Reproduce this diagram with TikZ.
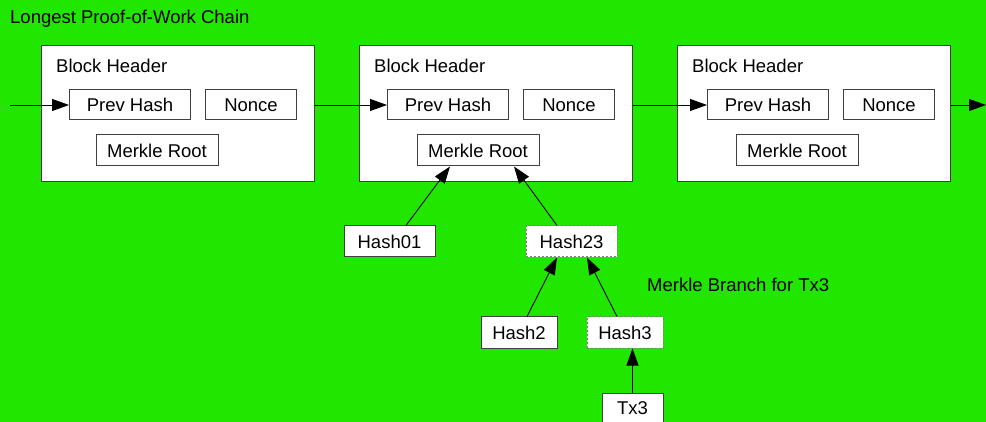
\documentclass[tikz,border=0pt]{standalone}
\usepackage{fontspec}
\setmainfont{Liberation Sans}
\usetikzlibrary{arrows.meta,positioning}
\definecolor{bggreen}{HTML}{20E600}
\definecolor{boxline}{HTML}{404040}
\tikzset{
  field/.style={draw=boxline, fill=white, line width=1pt, minimum height=30pt, inner sep=0pt},
  branch/.style={field, draw=gray, dash pattern=on 2pt off 2pt},
  block/.style={draw=boxline, fill=white, line width=1pt, minimum width=273pt, minimum height=136pt, anchor=north west},
  label/.style={anchor=base west, inner sep=0pt},
  link/.style={-{Triangle[length=17pt,width=12pt]}, line width=0.9pt},
}

\begin{document}
\begin{tikzpicture}[x=1pt, y=-1pt, font=\fontsize{18.5}{22}\selectfont]
        \fill[bggreen] (0,0) rectangle (986,422);
        \useasboundingbox (0,0) rectangle (986,422);
        \node[label] (title) at (10,24) {Longest Proof-of-Work Chain};

        % Block 1
        \begin{scope}[xshift=41]
            \node[block] (b1) at (0,45) {};
            \node[label] (b1head) at (15,73) {Block Header};
            \node[field, minimum width=121pt] (b1prev) at (89,105) {Prev Hash};
            \node[field, minimum width=91pt] (b1nonce) at (210,105) {Nonce};
            \node[field, minimum width=122pt, minimum height=31pt] (b1root) at (116,150.5) {Merkle Root};
        \end{scope}

        % Block 2
        \begin{scope}[xshift=359]
            \node[block] (b2) at (0,45) {};
            \node[label] (b2head) at (15,73) {Block Header};
            \node[field, minimum width=121pt] (b2prev) at (89,105) {Prev Hash};
            \node[field, minimum width=91pt] (b2nonce) at (210,105) {Nonce};
            \node[field, minimum width=122pt, minimum height=31pt] (b2root) at (119,150.5) {Merkle Root};
        \end{scope}

        % Block 3
        \begin{scope}[xshift=677]
            \node[block] (b3) at (0,45) {};
            \node[label] (b3head) at (15,73) {Block Header};
            \node[field, minimum width=121pt] (b3prev) at (91,105) {Prev Hash};
            \node[field, minimum width=91pt] (b3nonce) at (212,105) {Nonce};
            \node[field, minimum width=122pt, minimum height=31pt] (b3root) at (120,150.5) {Merkle Root};
        \end{scope}

        % chain links
        \coordinate (chainin) at (10,105);
        \coordinate (chainout) at (986,105);
        \draw[link] (chainin) -- (b1prev.west);
        \draw[link] (b1.east |- b1prev) -- (b2prev.west);
        \draw[link] (b2.east |- b2prev) -- (b3prev.west);
        \draw[link] (b3.east |- b3prev) -- (chainout);

        % Merkle branch
        \node[field, minimum width=91pt, minimum height=31pt] (h01) at (389.5,241.5) {Hash01};
        \node[branch, minimum width=91pt, minimum height=31pt] (h23) at (571.5,241.5) {Hash23};
        \node[field, minimum width=76pt, minimum height=31pt] (h2) at (519,332.5) {Hash2};
        \node[branch, minimum width=76pt, minimum height=31pt] (h3) at (625,332.5) {Hash3};
        \node[field, minimum width=61pt, minimum height=31pt] (tx3) at (632.5,408.5) {Tx3};
        \node[label] (branchlabel) at (647,291) {Merkle Branch for Tx3};

        \draw[link] ([xshift=16.5pt]h01.north) -- ([xshift=-28pt]b2root.south);
        \draw[link] ([xshift=-14.5pt]h23.north) -- ([xshift=36pt]b2root.south);
        \draw[link] ([xshift=8pt]h2.north) -- ([xshift=-14.5pt]h23.south);
        \draw[link] ([xshift=-8pt]h3.north) -- ([xshift=15.5pt]h23.south);
        \draw[link] (tx3.north) -- (h3.south -| tx3.north);
\end{tikzpicture}
\end{document}
